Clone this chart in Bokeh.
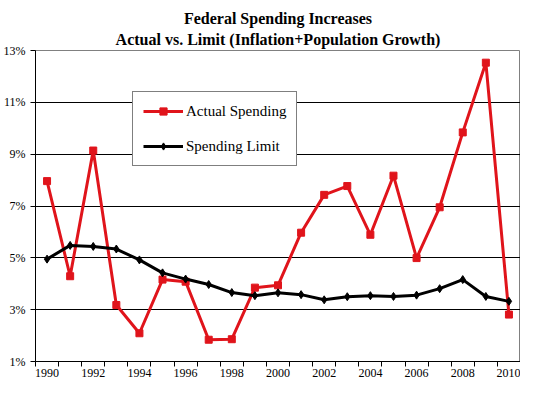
from bokeh.plotting import figure
from bokeh.models import Range1d, FixedTicker, Title, Legend, LegendItem
from bokeh.embed import file_html
from bokeh.resources import INLINE

years = list(range(1990, 2011))
actual = [7.96, 4.29, 9.14, 3.18, 2.09, 4.16, 4.08, 1.84, 1.86, 3.85, 3.94,
          5.97, 7.43, 7.77, 5.89, 8.17, 4.99, 6.95, 9.84, 12.53, 2.81]
limit = [4.95, 5.48, 5.44, 5.34, 4.92, 4.42, 4.18, 3.97, 3.66, 3.54, 3.65,
         3.58, 3.38, 3.50, 3.54, 3.51, 3.56, 3.81, 4.16, 3.51, 3.32]
y_ticks = [1, 3, 5, 7, 9, 11, 13]
y_labels = ["1%", "3%", "5%", "7%", "9%", "11%", "13%"]
x_label_years = [1990, 1992, 1994, 1996, 1998, 2000, 2002, 2004, 2006, 2008, 2010]
title_lines = ["Federal Spending Increases", "Actual vs. Limit (Inflation+Population Growth)"]
series_names = ["Actual Spending", "Spending Limit"]

FONT = "Liberation Serif"
RED = "#E0141B"

p = figure(width=520, height=379, output_backend="svg", toolbar_location=None,
           x_range=Range1d(years[0] - 0.5, years[-1] + 0.5),
           y_range=Range1d(y_ticks[0], y_ticks[-1]),
           min_border_left=1, min_border_right=0, min_border_top=0, min_border_bottom=0)
p.background_fill_color = "white"
p.border_fill_color = "white"
p.outline_line_color = "#808080"
p.outline_line_width = 1

# titles (first added is closest to plot)
p.title = None
t2 = Title(text=title_lines[1], align="center", text_font=FONT, text_font_size="16px",
           text_font_style="bold", text_color="black", standoff=5, offset=-10)
t1 = Title(text=title_lines[0], align="center", text_font=FONT, text_font_size="16px",
           text_font_style="bold", text_color="black", standoff=0, offset=-10)
spacer = Title(text=" ", text_font_size="4px", standoff=0)
p.add_layout(t2, "above")
p.add_layout(t1, "above")
p.add_layout(spacer, "above")

# x axis
xa = p.xaxis[0]
xa.ticker = FixedTicker(ticks=x_label_years, minor_ticks=[y - 0.5 for y in years] + [years[-1] + 0.5])
xa.major_tick_out = 0
xa.major_tick_in = 0
xa.minor_tick_out = 5
xa.minor_tick_in = 0
xa.minor_tick_line_color = "black"
xa.axis_line_color = "black"
xa.major_label_text_font = FONT
xa.major_label_text_font_size = "12px"
xa.major_label_text_color = "black"
xa.major_label_standoff = 2

# y axis
ya = p.yaxis[0]
ya.ticker = FixedTicker(ticks=y_ticks)
ya.major_label_overrides = {t: lab for t, lab in zip(y_ticks, y_labels)}
ya.major_tick_out = 5
ya.major_tick_in = 0
ya.minor_tick_out = 0
ya.minor_tick_in = 0
ya.axis_line_color = "black"
ya.major_label_text_font = FONT
ya.major_label_text_font_size = "12px"
ya.major_label_text_color = "black"
ya.major_label_standoff = 5

# grid
p.xgrid.visible = False
p.ygrid.ticker = FixedTicker(ticks=y_ticks[1:-1])
p.ygrid.grid_line_color = "black"
p.ygrid.grid_line_width = 1

r1 = p.line(years, actual, line_color=RED, line_width=3)
s1 = p.scatter(years, actual, marker="square", size=7, fill_color=RED, line_color=RED)
r2 = p.line(years, limit, line_color="black", line_width=3)
s2 = p.scatter(years, limit, marker="diamond", size=8, fill_color="black", line_color="black")

legend = Legend(items=[LegendItem(label=series_names[0], renderers=[r1, s1]),
                       LegendItem(label=series_names[1], renderers=[r2, s2])],
                location=(97, 195))
legend.label_text_font = FONT
legend.label_text_font_size = "15px"
legend.label_text_color = "black"
legend.border_line_color = "black"
legend.border_line_width = 1
legend.background_fill_color = "white"
legend.background_fill_alpha = 1
legend.glyph_width = 40
legend.glyph_height = 18
legend.label_height = 18
legend.label_standoff = 3
legend.padding = 10
legend.spacing = 17
legend.margin = 0
p.add_layout(legend)

open("out.html", "w").write(file_html(p, INLINE))
